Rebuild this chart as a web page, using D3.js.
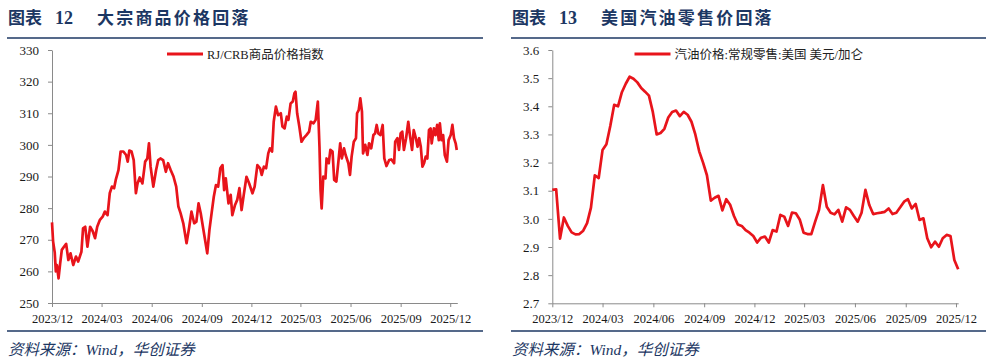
<!DOCTYPE html>
<html lang="zh">
<head>
<meta charset="utf-8">
<title>大宗商品价格回落 / 美国汽油零售价回落</title>
<script src="https://d3js.org/d3.v7.min.js"></script>
<style>
    body { margin: 0; background: #fff; }
    .axis path, .axis line { stroke: #8a8a8a; stroke-width: 1; }
    .axis text { font-family: "Liberation Serif", "Times New Roman", serif; fill: #1a1a1a; }
    .title { font-family: "Liberation Serif", "Noto Sans CJK SC", serif; font-weight: bold; fill: #1c3763; }
    .legend { font-family: "Liberation Serif", "Noto Sans CJK SC", serif; fill: #222; font-size: 12.5px; }
    .source { font-family: "Liberation Serif", "Noto Sans CJK SC", serif; font-style: italic; fill: #1c3763; font-size: 15.5px; }
</style>
</head>
<body>
<svg id="chart" width="988" height="360"></svg>
<script>
// ---- RJ/CRB commodity index ----
var crbDates = [
    "2023-12-01","2023-12-03","2023-12-06","2023-12-08","2023-12-10","2023-12-13","2023-12-16","2023-12-19","2023-12-23","2023-12-27",
    "2023-12-31","2024-01-04","2024-01-09","2024-01-14","2024-01-18","2024-01-24","2024-01-27","2024-01-31","2024-02-04","2024-02-09",
    "2024-02-14","2024-02-18","2024-02-22","2024-02-27","2024-03-03","2024-03-07","2024-03-12","2024-03-16","2024-03-20","2024-03-24",
    "2024-03-27","2024-04-01","2024-04-05","2024-04-10","2024-04-15","2024-04-18","2024-04-21","2024-04-25","2024-04-29","2024-05-03",
    "2024-05-06","2024-05-10","2024-05-15","2024-05-20","2024-05-24","2024-05-27","2024-05-30","2024-06-04","2024-06-09","2024-06-13",
    "2024-06-17","2024-06-22","2024-06-27","2024-07-01","2024-07-06","2024-07-11","2024-07-16","2024-07-20","2024-07-24","2024-07-29",
    "2024-08-04","2024-08-09","2024-08-13","2024-08-18","2024-08-22","2024-08-26","2024-08-30","2024-09-04","2024-09-08","2024-09-11",
    "2024-09-15","2024-09-19","2024-09-23","2024-09-27","2024-10-01","2024-10-05","2024-10-09","2024-10-12","2024-10-15","2024-10-20",
    "2024-10-24","2024-10-27","2024-11-01","2024-11-05","2024-11-09","2024-11-13","2024-11-17","2024-11-22","2024-11-27","2024-12-03",
    "2024-12-07","2024-12-12","2024-12-17","2024-12-20","2024-12-24","2024-12-28","2025-01-01","2025-01-04","2025-01-08","2025-01-11",
    "2025-01-15","2025-01-19","2025-01-24","2025-01-27","2025-01-31","2025-02-04","2025-02-07","2025-02-11","2025-02-15","2025-02-18",
    "2025-02-20","2025-02-23","2025-02-27","2025-03-03","2025-03-07","2025-03-12","2025-03-17","2025-03-20","2025-03-25","2025-03-29",
    "2025-04-02","2025-04-05","2025-04-07","2025-04-09","2025-04-12","2025-04-16","2025-04-18","2025-04-22","2025-04-25","2025-04-29",
    "2025-05-02","2025-05-06","2025-05-10","2025-05-13","2025-05-16","2025-05-20","2025-05-23","2025-05-28","2025-05-31","2025-06-03",
    "2025-06-07","2025-06-11","2025-06-13","2025-06-16","2025-06-19","2025-06-22","2025-06-24","2025-06-28","2025-07-02","2025-07-05",
    "2025-07-09","2025-07-13","2025-07-16","2025-07-19","2025-07-22","2025-07-26","2025-07-30","2025-08-02","2025-08-06","2025-08-11",
    "2025-08-15","2025-08-20","2025-08-22","2025-08-26","2025-08-29","2025-09-01","2025-09-04","2025-09-07","2025-09-11","2025-09-15",
    "2025-09-18","2025-09-22","2025-09-25","2025-09-29","2025-10-02","2025-10-05","2025-10-08","2025-10-11","2025-10-14","2025-10-17",
    "2025-10-20","2025-10-23","2025-10-26","2025-10-28","2025-11-01","2025-11-04","2025-11-07","2025-11-10","2025-11-12","2025-11-15",
    "2025-11-18","2025-11-21","2025-11-25","2025-11-28","2025-12-02","2025-12-05","2025-12-08","2025-12-11","2025-12-13"
];
var crbValues = [
    275.5, 269.5, 266.0, 260.0, 262.0, 257.8, 262.5, 266.8, 267.8, 268.7,
    263.6, 265.7, 262.0, 264.7, 263.1, 266.2, 273.6, 274.1, 267.8, 274.1,
    272.6, 270.5, 274.1, 276.3, 277.3, 278.9, 277.8, 284.7, 286.8, 286.3,
    288.9, 292.0, 297.9, 297.9, 296.8, 294.7, 298.2, 297.9, 295.2, 284.7,
    287.8, 289.7, 287.8, 294.7, 295.7, 300.5, 293.1, 286.8, 292.0, 295.2,
    295.7, 295.2, 291.5, 294.2, 292.0, 290.0, 286.8, 280.5, 278.4, 275.2,
    268.9, 274.1, 278.9, 275.2, 275.7, 281.5, 278.4, 273.1, 268.9, 265.7,
    273.1, 278.4, 283.6, 287.3, 286.8, 292.6, 293.6, 285.7, 289.4, 281.5,
    284.2, 277.8, 281.0, 282.6, 286.3, 279.4, 284.2, 289.9, 287.8, 284.7,
    286.8, 293.6, 292.6, 290.5, 293.1, 292.6, 297.3, 298.9, 297.9, 307.3,
    312.1, 309.4, 310.0, 305.8, 305.2, 308.9, 307.9, 313.1, 313.7, 316.3,
    316.8, 310.0, 305.8, 301.0, 302.1, 303.1, 304.2, 307.3, 306.8, 307.9,
    313.7, 299.4, 285.7, 279.9, 290.0, 289.4, 295.7, 294.2, 298.4, 297.9,
    288.9, 288.4, 295.2, 300.5, 295.7, 298.9, 296.8, 294.2, 290.5, 296.3,
    301.0, 302.1, 310.0, 311.0, 314.7, 310.5, 297.3, 300.0, 296.8, 300.5,
    298.9, 303.1, 303.6, 306.3, 303.6, 303.1, 306.3, 295.7, 293.3, 295.2,
    295.4, 294.2, 301.0, 302.1, 298.4, 303.6, 304.2, 298.4, 302.1, 307.3,
    303.1, 298.4, 304.7, 302.1, 299.4, 302.1, 299.4, 293.1, 294.2, 296.3,
    295.7, 304.7, 305.2, 300.5, 305.2, 303.1, 306.3, 301.5, 306.8, 301.5,
    303.1, 296.8, 294.7, 301.5, 303.1, 306.3, 302.1, 300.5, 298.4
];

// ---- US regular retail gasoline, USD/gallon, weekly (Fridays) ----
var gasDates = d3.timeFriday.range(new Date(2023, 11, 1), new Date(2025, 11, 6));
var gasValues = [
    3.103, 3.105, 2.930, 3.005, 2.975, 2.952, 2.945, 2.946, 2.958, 2.985,
    3.040, 3.155, 3.145, 3.245, 3.265, 3.330, 3.405, 3.400, 3.450, 3.480,
    3.505, 3.498, 3.485, 3.465, 3.452, 3.438, 3.380, 3.300, 3.305, 3.320,
    3.360, 3.380, 3.385, 3.365, 3.380, 3.370, 3.345, 3.300, 3.240, 3.200,
    3.155, 3.065, 3.075, 3.082, 3.030, 3.070, 3.050, 3.010, 2.980, 2.975,
    2.960, 2.951, 2.939, 2.916, 2.933, 2.937, 2.916, 2.960, 2.955, 3.014,
    3.008, 2.975, 3.022, 3.020, 2.998, 2.951, 2.946, 2.946, 2.990, 3.032,
    3.120, 3.043, 3.022, 3.016, 3.032, 2.990, 3.041, 3.032, 3.010, 2.990,
    3.022, 3.103, 3.049, 3.017, 3.020, 3.022, 3.025, 3.037, 3.017, 3.022,
    3.041, 3.061, 3.070, 3.037, 3.053, 2.996, 3.002, 2.931, 2.899, 2.919,
    2.901, 2.931, 2.943, 2.939, 2.854, 2.821
];

// ---- ticks ----
var xTickDates = ["2023-12-01","2024-03-01","2024-06-01","2024-09-01","2024-12-01",
                  "2025-03-01","2025-06-01","2025-09-01","2025-12-01"];
var crbYTicks = [250, 260, 270, 280, 290, 300, 310, 320, 330];
var gasYTicks = [2.7, 2.8, 2.9, 3.0, 3.1, 3.2, 3.3, 3.4, 3.5, 3.6];

var parseDate = d3.timeParse('%Y-%m-%d');
var formatTick = d3.timeFormat('%Y/%m');
var svg = d3.select('#chart');

function drawPanel(p) {
    var g = svg.append('g');

    //Title
    g.append('text').attr('class', 'title').attr('x', p.left).attr('y', 24)
        .style('font-size', '17px').text('图表');
    g.append('text').attr('class', 'title').attr('x', p.left + 47).attr('y', 24)
        .style('font-size', '18px').text(p.num);
    g.append('text').attr('class', 'title').attr('x', p.left + 89).attr('y', 24)
        .style('font-size', '17px').style('letter-spacing', '2.2px').text(p.title);

    //Top and bottom rules
    [38, 331].forEach(function(yy, i) {
        g.append('line')
            .attr('x1', p.ruleX[0]).attr('x2', p.ruleX[1])
            .attr('y1', yy).attr('y2', yy)
            .attr('stroke', '#1c3763')
            .attr('stroke-width', i === 0 ? 1.6 : 1.3);
    });

    //Scales
    var x = d3.scaleTime().domain(p.xDomain).range(p.xRange);
    var y = d3.scaleLinear().domain(p.yDomain).range(p.yRange);

    //X axis
    g.append('g')
        .attr('class', 'axis')
        .attr('transform', 'translate(0,' + p.yRange[0] + ')')
        .call(d3.axisBottom(x)
            .tickValues(xTickDates.map(parseDate))
            .tickFormat(formatTick)
            .tickSize(4).tickSizeOuter(0).tickPadding(7))
        .selectAll('text').style('font-size', '12.5px');

    //Y axis
    g.append('g')
        .attr('class', 'axis')
        .attr('transform', 'translate(' + p.xRange[0] + ',0)')
        .call(d3.axisLeft(y)
            .tickValues(p.yTicks)
            .tickFormat(p.yFormat)
            .tickSize(4).tickSizeOuter(0).tickPadding(9))
        .selectAll('text').style('font-size', '13px');

    //Line
    var line = d3.line()
        .x(function(d) { return x(d.date); })
        .y(function(d) { return y(d.value); });

    g.append('path')
        .datum(p.data)
        .attr('d', line)
        .attr('fill', 'none')
        .attr('stroke', '#e8141b')
        .attr('stroke-width', 2.7)
        .attr('stroke-linejoin', 'round');

    //Legend
    g.append('line')
        .attr('x1', p.legendX).attr('x2', p.legendX + 36)
        .attr('y1', 54).attr('y2', 54)
        .attr('stroke', '#e8141b').attr('stroke-width', 3);
    g.append('text').attr('class', 'legend')
        .attr('x', p.legendX + 40).attr('y', 58.5)
        .text(p.legend);

    //Source
    g.append('text').attr('class', 'source')
        .attr('x', p.left).attr('y', 355)
        .text('资料来源：Wind，华创证券');
}

drawPanel({
    left: 8,
    num: '12',
    title: '大宗商品价格回落',
    ruleX: [7, 483],
    xDomain: [parseDate('2023-12-01'), parseDate('2025-12-14')],
    xRange: [52, 457.3],
    yDomain: [250, 330],
    yRange: [303, 50],
    yTicks: crbYTicks,
    yFormat: d3.format('d'),
    legendX: 167,
    legend: 'RJ/CRB商品价格指数',
    data: crbDates.map(function(d, i) { return { date: parseDate(d), value: crbValues[i] }; })
});

drawPanel({
    left: 512,
    num: '13',
    title: '美国汽油零售价回落',
    ruleX: [511, 986],
    xDomain: [parseDate('2023-12-01'), parseDate('2025-12-05')],
    xRange: [552.3, 958.2],
    yDomain: [2.7, 3.6],
    yRange: [303.3, 50],
    yTicks: gasYTicks,
    yFormat: d3.format('.1f'),
    legendX: 634.5,
    legend: '汽油价格:常规零售:美国 美元/加仑',
    data: gasDates.map(function(d, i) { return { date: d, value: gasValues[i] }; })
});
</script>
</body>
</html>
